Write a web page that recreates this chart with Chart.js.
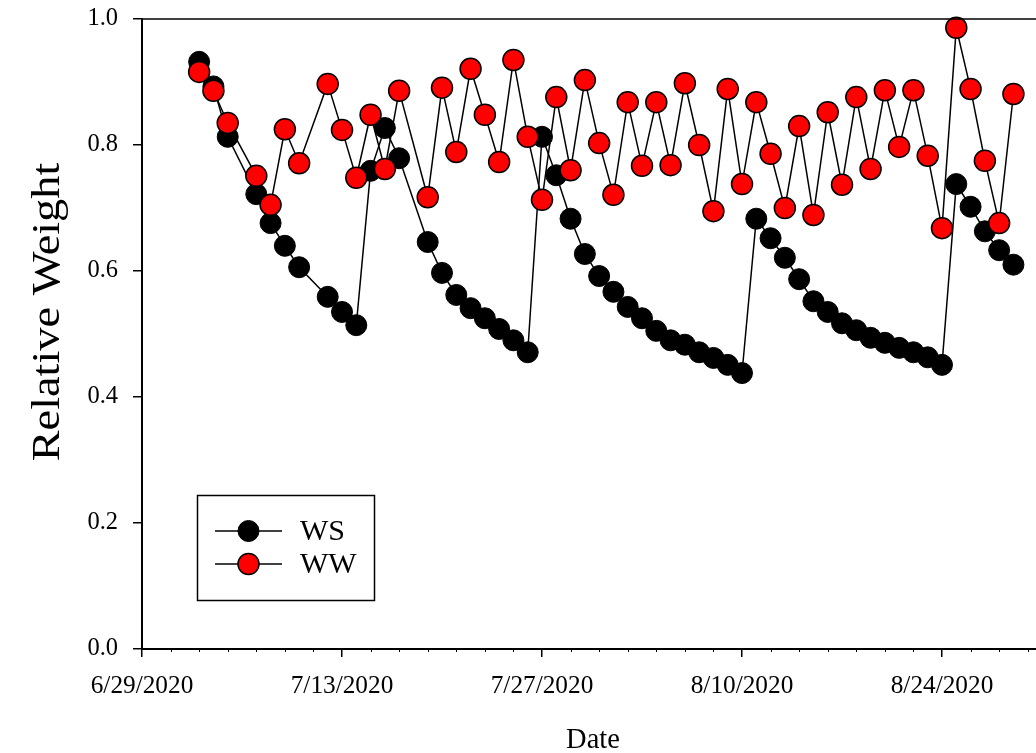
<!DOCTYPE html>
<html>
<head>
<meta charset="utf-8">
<title>Relative Weight</title>
<script src="https://cdn.jsdelivr.net/npm/chart.js@4.4.1/dist/chart.umd.min.js"></script>
<style>
  html, body { margin: 0; padding: 0; background: #fff; overflow: hidden; }
  #wrap { position: absolute; left: 0; top: 0; width: 1060px; height: 753px; }
</style>
</head>
<body>
<div id="wrap"><canvas id="chart" width="1060" height="753"></canvas></div>
<script>
// Measurement dates
const startDate = '2020-06-29';
const dates = [
  '2020-07-03','2020-07-04','2020-07-05','2020-07-07','2020-07-08','2020-07-09','2020-07-10',
  '2020-07-12','2020-07-13','2020-07-14','2020-07-15','2020-07-16','2020-07-17',
  '2020-07-19','2020-07-20','2020-07-21','2020-07-22','2020-07-23','2020-07-24','2020-07-25',
  '2020-07-26','2020-07-27','2020-07-28','2020-07-29','2020-07-30','2020-07-31','2020-08-01',
  '2020-08-02','2020-08-03','2020-08-04','2020-08-05','2020-08-06','2020-08-07','2020-08-08',
  '2020-08-09','2020-08-10','2020-08-11','2020-08-12','2020-08-13','2020-08-14','2020-08-15',
  '2020-08-16','2020-08-17','2020-08-18','2020-08-19','2020-08-20','2020-08-21','2020-08-22',
  '2020-08-23','2020-08-24','2020-08-25','2020-08-26','2020-08-27','2020-08-28','2020-08-29'
];

// Relative weight, water-stressed pots
const wsValues = [
  0.932, 0.893, 0.813, 0.722, 0.676, 0.640, 0.606,
  0.559, 0.535, 0.514, 0.759, 0.827, 0.779,
  0.646, 0.597, 0.562, 0.541, 0.525, 0.508, 0.490,
  0.471, 0.813, 0.752, 0.683, 0.627, 0.592, 0.567,
  0.543, 0.525, 0.505, 0.490, 0.483, 0.471, 0.462,
  0.451, 0.438, 0.683, 0.652, 0.621, 0.587, 0.552,
  0.535, 0.517, 0.506, 0.494, 0.486, 0.478, 0.471,
  0.463, 0.451, 0.738, 0.702, 0.663, 0.633, 0.610
];

// Relative weight, well-watered pots
const wwValues = [
  0.916, 0.886, 0.835, 0.751, 0.705, 0.825, 0.771,
  0.897, 0.824, 0.748, 0.848, 0.762, 0.886,
  0.717, 0.891, 0.789, 0.921, 0.848, 0.773, 0.935,
  0.813, 0.713, 0.876, 0.760, 0.903, 0.803, 0.721,
  0.868, 0.767, 0.868, 0.768, 0.898, 0.800, 0.695,
  0.889, 0.738, 0.868, 0.786, 0.700, 0.830, 0.689,
  0.852, 0.737, 0.876, 0.762, 0.887, 0.797, 0.887,
  0.783, 0.668, 0.986, 0.889, 0.775, 0.676, 0.881
];

// Date labels for the x axis, one every 14 days from the start date
const xTickLabels = ['6/29/2020', '7/13/2020', '7/27/2020', '8/10/2020', '8/24/2020'];
const yTickLabels = ['0.0', '0.2', '0.4', '0.6', '0.8', '1.0'];

const seriesNames = ['WS', 'WW'];
const xTitle = 'Date';
const yTitle = 'Relative Weight';

const DAY = 86400000;
const dayOf = d => (Date.parse(d) - Date.parse(startDate)) / DAY;
const toPoints = vals => dates.map((d, i) => ({ x: dayOf(d), y: vals[i] }));

const FONT = "'Liberation Serif', 'Times New Roman', serif";

// Frame line, minor ticks, axis titles and the boxed legend
const decorations = {
  id: 'decorations',
  afterDraw(chart) {
    const { ctx, chartArea } = chart;
    const xs = chart.scales.x;
    ctx.save();
    ctx.strokeStyle = '#000';
    ctx.lineWidth = 1.5;
    // top frame line
    ctx.beginPath();
    ctx.moveTo(chartArea.left, chartArea.top);
    ctx.lineTo(chartArea.right, chartArea.top);
    ctx.stroke();
    // minor ticks every two days
    ctx.lineWidth = 1;
    for (let v = xs.min; v <= xs.max; v += 2) {
      if (v % 14 === 0) continue;
      const px = Math.round(xs.getPixelForValue(v)) + 0.5;
      ctx.beginPath();
      ctx.moveTo(px, chartArea.bottom);
      ctx.lineTo(px, chartArea.bottom + 3);
      ctx.stroke();
    }
    // axis titles
    ctx.fillStyle = '#000';
    ctx.font = '28.5px ' + FONT;
    ctx.textAlign = 'center';
    ctx.textBaseline = 'alphabetic';
    ctx.fillText(xTitle, (chartArea.left + chartArea.right) / 2 + 1, 748);
    ctx.save();
    ctx.translate(59, 312);
    ctx.rotate(-Math.PI / 2);
    ctx.scale(1.13, 1);
    ctx.font = '41px ' + FONT;
    ctx.fillText(yTitle, 0, 0);
    ctx.restore();
    // legend
    const bx = 197.5, by = 495.5, bw = 177, bh = 105;
    ctx.lineWidth = 1.5;
    ctx.strokeRect(bx, by, bw, bh);
    const rows = [531, 564];
    chart.data.datasets.forEach((ds, i) => {
      const yy = rows[i];
      ctx.lineWidth = 1.5;
      ctx.strokeStyle = ds.borderColor;
      ctx.beginPath();
      ctx.moveTo(215, yy);
      ctx.lineTo(282, yy);
      ctx.stroke();
      ctx.beginPath();
      ctx.arc(248.5, yy, ds.pointRadius, 0, Math.PI * 2);
      ctx.fillStyle = ds.pointBackgroundColor;
      ctx.fill();
      ctx.lineWidth = ds.pointBorderWidth;
      ctx.strokeStyle = ds.pointBorderColor;
      ctx.stroke();
      ctx.fillStyle = '#000';
      ctx.font = '30px ' + FONT;
      ctx.textAlign = 'left';
      ctx.textBaseline = 'middle';
      ctx.fillText(ds.label, 300, yy + 1);
    });
    ctx.restore();
  }
};

new Chart(document.getElementById('chart'), {
  type: 'scatter',
  data: {
    datasets: [
      {
        label: seriesNames[0],
        data: toPoints(wsValues),
        showLine: true,
        borderColor: '#000',
        borderWidth: 1.5,
        pointRadius: 10.5,
        pointBackgroundColor: '#000',
        pointBorderColor: '#000',
        pointBorderWidth: 1,
        order: 1,
        clip: false
      },
      {
        label: seriesNames[1],
        data: toPoints(wwValues),
        showLine: true,
        borderColor: '#000',
        borderWidth: 1.5,
        pointRadius: 10.5,
        pointBackgroundColor: '#ff0000',
        pointBorderColor: '#000',
        pointBorderWidth: 1.5,
        order: 0,
        clip: false
      }
    ]
  },
  options: {
    responsive: false,
    animation: false,
    events: [],
    layout: { padding: { left: 0, right: 18, top: 19, bottom: 0 } },
    plugins: { legend: { display: false }, tooltip: { enabled: false } },
    scales: {
      x: {
        type: 'linear',
        min: 0,
        max: 63,
        afterFit(scale) {
          scale.height = 104;
          scale.paddingLeft = 0;
          scale.paddingRight = 0;
        },
        afterBuildTicks(scale) {
          scale.ticks = xTickLabels.map((_, i) => ({ value: i * 14 }));
        },
        ticks: {
          autoSkip: false,
          maxRotation: 0,
          padding: 14,
          color: '#000',
          font: { family: FONT, size: 25.3 },
          callback: (v) => xTickLabels[Math.round(v / 14)]
        },
        grid: { drawOnChartArea: false, drawTicks: true, tickLength: 8, color: '#000', lineWidth: 1.5 },
        border: { display: true, color: '#000', width: 2 }
      },
      y: {
        min: 0,
        max: 1,
        afterFit(scale) {
          scale.width = 142;
          scale.paddingTop = 0;
          scale.paddingBottom = 0;
        },
        afterBuildTicks(scale) {
          scale.ticks = yTickLabels.map(t => ({ value: parseFloat(t) }));
        },
        ticks: {
          padding: 15,
          color: '#000',
          font: { family: FONT, size: 24.5 },
          callback: (v) => yTickLabels[Math.round(v * 5)]
        },
        grid: { drawOnChartArea: false, drawTicks: true, tickLength: 9, color: '#000', lineWidth: 1.5 },
        border: { display: true, color: '#000', width: 2 }
      }
    }
  },
  plugins: [decorations]
});
</script>
</body>
</html>
